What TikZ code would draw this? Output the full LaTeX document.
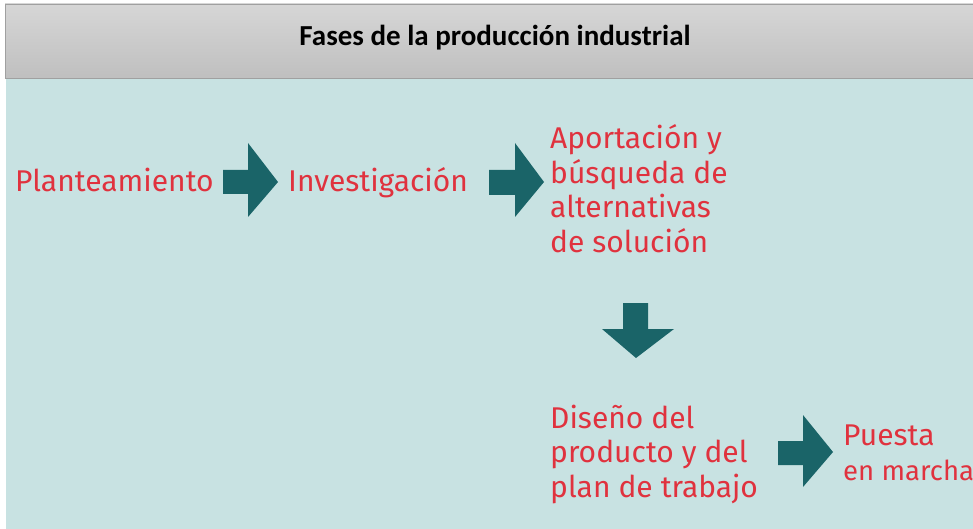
\documentclass[tikz,border=0pt]{standalone}
\usepackage{fontspec}
\setmainfont{Carlito}
\newfontfamily\fasefont{Fira Sans}
\usetikzlibrary{positioning}

\definecolor{fondo}{HTML}{C8E2E2}
\definecolor{rojofase}{HTML}{E0323E}
\definecolor{tealflecha}{HTML}{1A6468}
\definecolor{grisborde}{HTML}{A0A0A0}

\tikzset{
  fase/.style={anchor=base west, inner sep=0pt, align=left, text=rojofase,
    font=\fasefont\fontsize{30}{34.5}\selectfont},
  flecha/.style={fill=tealflecha},
}

\begin{document}
\begin{tikzpicture}[x=1pt,y=-1pt]
\useasboundingbox (0,0) rectangle (973,529);
\clip (0,0) rectangle (973,529);
% fondo y barra del titulo
\fill[fondo] (6,78) rectangle (973,529);
\shade[top color=black!16, bottom color=black!25, draw=grisborde] (5,4) rectangle (980,78);
\node[font=\bfseries\fontsize{29}{32}\selectfont] (titulo) at (495,38) {Fases de la producción industrial};

% fases (base = ultima linea)
\node[fase] (plant) at (15,192) {Planteamiento};
\node[fase] (inves) at (288,192) {Investigación};
\node[fase] (aport) at (550,252) {Aportación y\\búsqueda de\\alternativas\\de solución};
\node[fase] (disen) at (550,497) {Diseño del\\producto y del\\plan de trabajo};
\node[fase] (puest) at (843,480) {Puesta\\{\fontsize{27.5}{33}\selectfont en marcha}};

% flechas
\fill[flecha] (223,170) -- (248,170) -- (248,143) -- (278,182) -- (248,217) -- (248,194) -- (223,194) -- cycle;
\fill[flecha] (489,170) -- (515,170) -- (515,143) -- (544,182) -- (515,217) -- (515,195) -- (489,195) -- cycle;
\fill[flecha] (623,303) -- (648,303) -- (648,329) -- (674,329) -- (636,358) -- (602,329) -- (623,329) -- cycle;
\fill[flecha] (778,441) -- (803,441) -- (803,415) -- (833,452) -- (803,487) -- (803,465) -- (778,465) -- cycle;
\end{tikzpicture}
\end{document}
